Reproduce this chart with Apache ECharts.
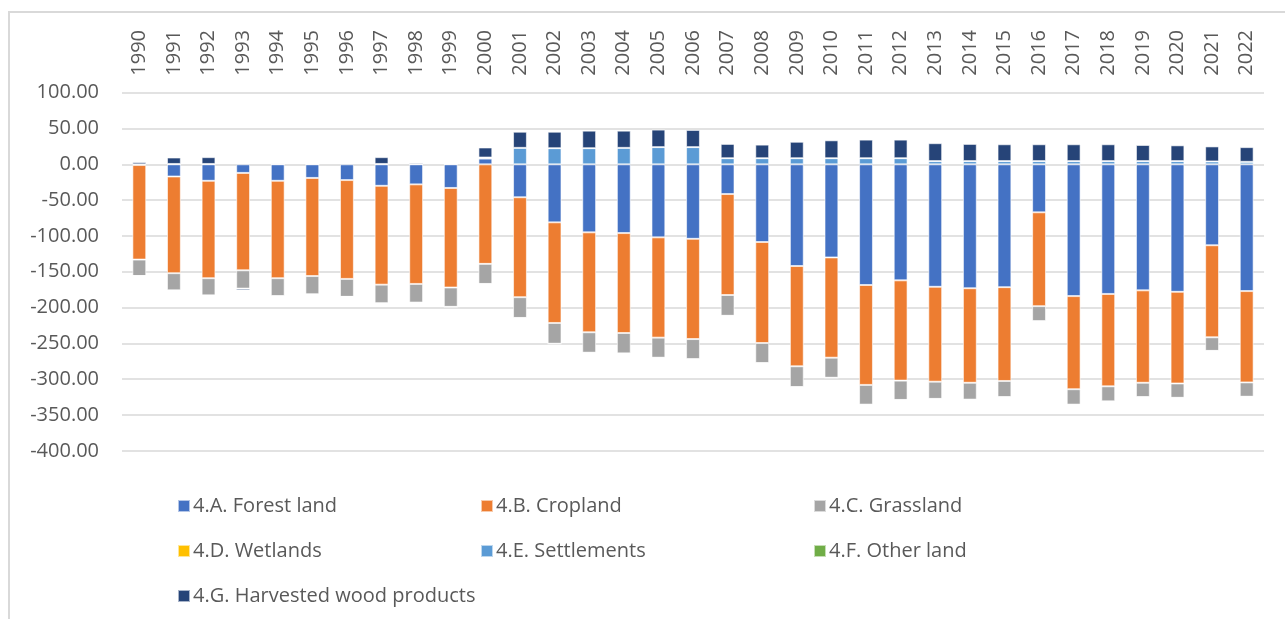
<!DOCTYPE html>
<html lang="en" style="height: 100%">
<head>
    <meta charset="UTF-8">
    <title>LULUCF by category</title>
    <script src="https://cdn.jsdelivr.net/npm/echarts@6/dist/echarts.min.js"></script>
</head>
<body style="height: 100%; margin: 0; background: #fff">
<div id="frame" style="position: absolute; left: 8px; top: 11px; width: 1300px; height: 700px; border-left: 2px solid #d9d9d9; border-top: 2px solid #d9d9d9"></div>
<div id="main" style="position: absolute; left: 0; top: 0; width: 1285px; height: 619px"></div>
<script>
    var years = ['1990','1991','1992','1993','1994','1995','1996','1997','1998','1999','2000',
        '2001','2002','2003','2004','2005','2006','2007','2008','2009','2010','2011',
        '2012','2013','2014','2015','2016','2017','2018','2019','2020','2021','2022'];

    var forestLand = [-1, -17, -23, -12, -23, -19, -22, -30, -28, -33, 8,
        -46, -81, -95, -96, -102, -104, -41.5, -108.5, -142, -130, -168.5,
        -162, -171, -173, -171.5, -67, -184, -181, -176, -178, -113, -177];
    var cropland = [-132, -135, -136, -136, -136, -137, -138, -138, -139, -139, -139,
        -139.5, -140.5, -139.5, -139.5, -140, -140, -141, -141, -140, -140, -139.5,
        -140, -132.5, -132, -131, -131, -130, -129, -129, -128, -128.5, -127.5];
    var grassland = [-23, -24, -24, -25.5, -25, -25.5, -25, -26, -26, -27, -28,
        -29, -29, -28.5, -28.5, -28, -28, -29, -28, -29, -28, -27.5,
        -27, -24, -23.5, -22.5, -21, -21.5, -21, -20, -20, -19, -20];
    var wetlands = [0, 0, 0, 0, 0, 0, 0, 0, 0, 0, 0,
        0, 0, 0, 0, 0, 0, 0, 0, 0, 0, 0,
        0, 0, 0, 0, 0, 0, 0, 0, 0, 0, 0];
    var settlements = [0, 0.5, 0.5, 0, 0.5, 0.5, 0, 0.5, 0.5, 0.5, 1.5,
        23, 22.5, 22.5, 23, 24, 24, 8.5, 8.5, 8.5, 8.5, 8.5,
        8.5, 4.5, 4.5, 4.5, 4.5, 4.5, 4.5, 4.5, 4.5, 4, 3.5];
    var otherLand = [0, 0, 0, 0, 0, 0, 0, 0, 0, 0, 0,
        0, 0, 0, 0, 0, 0, 0, 0, 0, 0, 0,
        0, 0, 0, 0, 0, 0, 0, 0, 0, 0, 0];
    var hwp = [3, 9, 9.5, -2.5, 1.5, 1, -1, 9.5, 2, 1, 14,
        22.5, 23, 24.5, 24, 24.5, 24, 20, 19, 23, 25, 26,
        26, 25, 24, 23.5, 23.5, 23.5, 23.5, 22.5, 22, 21, 20.5];

    var yTicks = [100, -400, 50];  // max, min, step

    var textGrey = '#595959';
    var font = '"Open Sans", sans-serif';

    function bar(name, data, color) {
        return {
            name: name,
            type: 'bar',
            stack: 'total',
            barWidth: '40%',
            data: data,
            itemStyle: {color: color, borderColor: 'rgba(255,255,255,0.6)', borderWidth: 1}
        };
    }

    function legendCol(left, names) {
        return {
            orient: 'vertical',
            left: left,
            top: 491,
            itemWidth: 12,
            itemHeight: 12,
            itemGap: 25,
            icon: 'rect',
            selectedMode: false,
            textStyle: {color: textGrey, fontSize: 20, fontFamily: font, lineHeight: 20, padding: [0, 0, 0, -2]},
            data: names
        };
    }

    var myoption = {
        animation: false,
        grid: {left: 122, right: 21, top: 92.7, height: 358.1},
        legend: [
            legendCol(172, ['4.A. Forest land', '4.D. Wetlands', '4.G. Harvested wood products']),
            legendCol(475, ['4.B. Cropland', '4.E. Settlements']),
            legendCol(808, ['4.C. Grassland', '4.F. Other land'])
        ],
        xAxis: {
            type: 'category',
            position: 'top',
            data: years,
            axisLine: {show: false},
            axisTick: {show: false},
            axisLabel: {rotate: 90, margin: 17, color: textGrey, fontSize: 20, fontFamily: font}
        },
        yAxis: {
            type: 'value',
            max: yTicks[0],
            min: yTicks[1],
            interval: yTicks[2],
            axisLine: {show: false},
            axisTick: {show: false},
            splitLine: {lineStyle: {color: '#d9d9d9', width: 1.5}},
            axisLabel: {
                margin: 23,
                color: textGrey,
                fontSize: 20,
                fontFamily: font,
                formatter: function (v) { return v.toFixed(2); }
            }
        },
        series: [
            bar('4.A. Forest land', forestLand, '#4472C4'),
            bar('4.B. Cropland', cropland, '#ED7D31'),
            bar('4.C. Grassland', grassland, '#A5A5A5'),
            bar('4.D. Wetlands', wetlands, '#FFC000'),
            bar('4.E. Settlements', settlements, '#5B9BD5'),
            bar('4.F. Other land', otherLand, '#70AD47'),
            bar('4.G. Harvested wood products', hwp, '#264478')
        ]
    };
    var myChart = echarts.init(document.getElementById('main'));
    myChart.setOption(myoption);
</script>
</body>
</html>
